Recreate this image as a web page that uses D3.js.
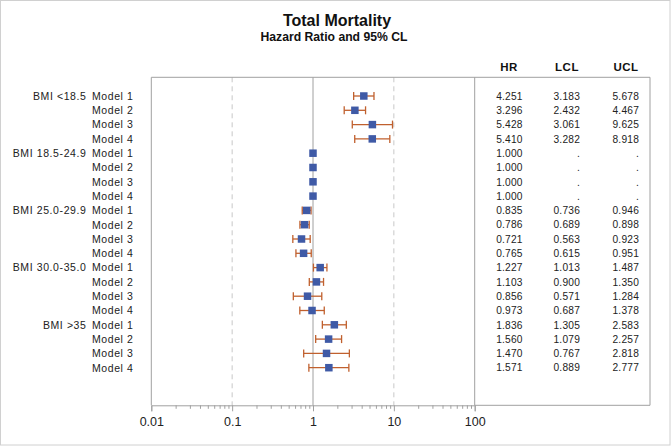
<!DOCTYPE html>
<html><head><meta charset="utf-8">
<script src="https://cdn.jsdelivr.net/npm/d3@7"></script>
<style>
html,body{margin:0;padding:0;background:#fff;}
svg{display:block;font-family:"Liberation Sans",Arial,sans-serif;}
</style></head>
<body><svg id="c" width="671" height="446"></svg>
<script>
const groups = ["BMI <18.5","BMI 18.5-24.9","BMI 25.0-29.9","BMI 30.0-35.0","BMI >35"];
const models = ["Model 1","Model 2","Model 3","Model 4"];
const hr  = [4.251,3.296,5.428,5.410, 1.000,1.000,1.000,1.000, 0.835,0.786,0.721,0.765, 1.227,1.103,0.856,0.973, 1.836,1.560,1.470,1.571];
const lcl = [3.183,2.432,3.061,3.282, null,null,null,null, 0.736,0.689,0.563,0.615, 1.013,0.900,0.571,0.687, 1.305,1.079,0.767,0.889];
const ucl = [5.678,4.467,9.625,8.918, null,null,null,null, 0.946,0.898,0.923,0.951, 1.487,1.350,1.284,1.378, 2.583,2.257,2.818,2.777];
const xTicks = [0.01,0.1,1,10,100];
const xTickLabels = ["0.01","0.1","1","10","100"];
const tableHeaders = ["HR","LCL","UCL"];
const title = "Total Mortality";
const subtitle = "Hazard Ratio and 95% CL";

const rows = [];
groups.forEach((g,gi)=>models.forEach((m,mi)=>{
  const i = gi*models.length+mi;
  rows.push({id:i, group: mi===0?g:"", model:m, hr:hr[i], lcl:lcl[i], ucl:ucl[i]});
}));

const svg = d3.select("#c");
const W=671,H=446;
const L=151.3, R=474.7, T=77.3, B=405.3, TR=650;

svg.append("rect").attr("x",0.5).attr("y",0.5).attr("width",W-1.5).attr("height",H-1.5)
  .attr("fill","#fff").attr("stroke","#d0d0d0");

const x = d3.scaleLog().domain([0.01,100]).range([L,R]);
const y = d3.scalePoint().domain(rows.map(d=>d.id)).range([96,367.7]);

// titles
svg.append("text").attr("x",337).attr("y",26).attr("text-anchor","middle")
  .attr("font-weight","bold").attr("font-size",16).attr("fill","#111").text(title);
svg.append("text").attr("x",334).attr("y",40.5).attr("text-anchor","middle")
  .attr("font-weight","bold").attr("font-size",12.2).attr("fill","#111").text(subtitle);

// gridlines
svg.append("g").selectAll("line").data([0.1,10]).join("line")
  .attr("x1",d=>x(d)).attr("x2",d=>x(d)).attr("y1",T).attr("y2",B)
  .attr("stroke","#c8c8c8").attr("stroke-dasharray","5,4");
svg.append("line").attr("x1",x(1)).attr("x2",x(1)).attr("y1",T).attr("y2",B)
  .attr("stroke","#a0a0a0");

// frame
const fr = svg.append("g").attr("stroke","#a0a0a0").attr("fill","none");
fr.append("line").attr("x1",L).attr("x2",TR).attr("y1",T).attr("y2",T);
fr.append("line").attr("x1",L).attr("x2",L).attr("y1",T).attr("y2",B);
fr.append("line").attr("x1",R).attr("x2",R).attr("y1",T).attr("y2",B);
fr.append("line").attr("x1",TR).attr("x2",TR).attr("y1",T).attr("y2",B);
fr.append("line").attr("x1",R).attr("x2",TR).attr("y1",B).attr("y2",B);

// x axis
const minor = [];
for (let e=-2;e<2;e++) for (let k=2;k<=9;k++) minor.push(k*Math.pow(10,e));
const axis = d3.axisBottom(x).tickValues(xTicks).tickFormat((d,i)=>xTickLabels[i]).tickSize(6).tickPadding(6);
const ga = svg.append("g").attr("transform",`translate(0,${B})`).call(axis);
ga.select(".domain").attr("stroke","#a0a0a0");
ga.selectAll(".tick line").attr("stroke","#a0a0a0");
ga.selectAll(".tick text").attr("font-size",12.5).attr("fill","#222").attr("font-family","Liberation Sans, Arial, sans-serif");
const axm = d3.axisBottom(x).tickValues(minor).tickFormat("").tickSize(3.5);
const gm = svg.append("g").attr("transform",`translate(0,${B})`).call(axm);
gm.select(".domain").remove();
gm.selectAll(".tick line").attr("stroke","#a0a0a0");

// left labels
const lab = svg.append("g").attr("font-size",10.5).attr("fill","#222").attr("letter-spacing",0.6);
lab.selectAll("text.g").data(rows.filter(d=>d.group)).join("text").attr("class","g")
  .attr("x",86.5).attr("y",d=>y(d.id)+3.8).attr("text-anchor","end").text(d=>d.group);
lab.selectAll("text.m").data(rows).join("text").attr("class","m")
  .attr("x",133.5).attr("y",d=>y(d.id)+3.8).attr("text-anchor","end").text(d=>d.model);

// error bars
const eb = svg.append("g").attr("stroke","#c0602e").attr("stroke-width",1.3);
const ci = rows.filter(d=>d.lcl!=null);
eb.selectAll("line.w").data(ci).join("line").attr("class","w")
  .attr("x1",d=>x(d.lcl)).attr("x2",d=>x(d.ucl)).attr("y1",d=>y(d.id)).attr("y2",d=>y(d.id));
eb.selectAll("line.l").data(ci).join("line").attr("class","l")
  .attr("x1",d=>x(d.lcl)).attr("x2",d=>x(d.lcl)).attr("y1",d=>y(d.id)-4).attr("y2",d=>y(d.id)+4);
eb.selectAll("line.u").data(ci).join("line").attr("class","u")
  .attr("x1",d=>x(d.ucl)).attr("x2",d=>x(d.ucl)).attr("y1",d=>y(d.id)-4).attr("y2",d=>y(d.id)+4);

// markers
const s=7.5;
svg.append("g").selectAll("rect").data(rows).join("rect")
  .attr("x",d=>x(d.hr)-s/2).attr("y",d=>y(d.id)-s/2).attr("width",s).attr("height",s)
  .attr("fill","#3f5aa6");

// table
const colX = [522.7,580,639];
const hdrX = [509,567,626];
const tb = svg.append("g");
tb.selectAll("text.h").data(tableHeaders).join("text").attr("class","h")
  .attr("x",(d,i)=>hdrX[i]).attr("y",71).attr("text-anchor","middle")
  .attr("font-weight","bold").attr("font-size",11.5).attr("letter-spacing",0.5).attr("fill","#111").text(d=>d);
const fmt = v => v==null ? "." : v.toFixed(3);
[["hr",0],["lcl",1],["ucl",2]].forEach(([k,ci2])=>{
  tb.selectAll("text.v"+k).data(rows).join("text").attr("class","v"+k)
    .attr("x",colX[ci2]).attr("y",d=>y(d.id)+3.7).attr("text-anchor","end")
    .attr("font-size",10.2).attr("letter-spacing",0.2).attr("fill","#222").text(d=>fmt(d[k]));
});
</script></body></html>
